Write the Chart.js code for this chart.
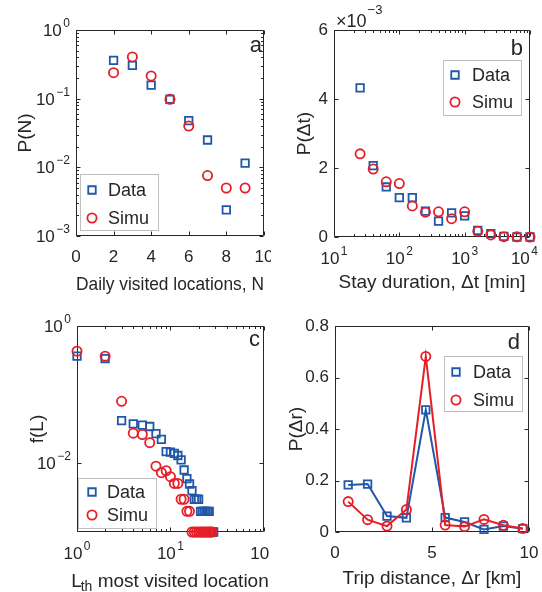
<!DOCTYPE html>
<html>
<head>
<meta charset="utf-8">
<script src="https://cdn.jsdelivr.net/npm/chart.js@4.4.0/dist/chart.umd.min.js"></script>
<style>
  html, body { margin: 0; padding: 0; background: #fff; }
  #figure { position: relative; width: 542px; height: 592px; overflow: hidden; }
  .panel { position: absolute; width: 271px; height: 296px; }
</style>
</head>
<body>
<div id="figure">
  <div class="panel" style="left:0;top:0"><canvas id="panel-a" width="271" height="296"></canvas></div>
  <div class="panel" style="left:271px;top:0"><canvas id="panel-b" width="271" height="296"></canvas></div>
  <div class="panel" style="left:0;top:296px"><canvas id="panel-c" width="271" height="296"></canvas></div>
  <div class="panel" style="left:271px;top:296px"><canvas id="panel-d" width="271" height="296"></canvas></div>
</div>
<script>
'use strict';

// (a) daily visited locations
let dailyLocations = [2, 3, 4, 5, 6, 7, 8, 9];
let dailyData = [0.362, 0.306, 0.157, 0.098, 0.048, 0.025, 0.0024, 0.0115];
let dailySimu = [0.239, 0.405, 0.214, 0.098, 0.040, 0.0076, 0.0050, 0.0050];

// (b) stay duration, minutes
let stayMinutes = [25.1, 39.8, 63.1, 100, 158, 251, 398, 631, 1000, 1585, 2512, 3981, 6310, 10000];
let stayData = [4.32e-3, 2.07e-3, 1.45e-3, 1.14e-3, 1.14e-3, 0.75e-3, 0.46e-3, 0.70e-3, 0.61e-3, 0.19e-3, 0.10e-3, 0.02e-3, 0, 0];
let staySimu = [2.41e-3, 1.97e-3, 1.60e-3, 1.55e-3, 0.90e-3, 0.72e-3, 0.73e-3, 0.53e-3, 0.73e-3, 0.165e-3, 0.06e-3, 0.01e-3, 0.005e-3, 0];

// (c) visit frequency by rank
let rankData = [1, 2, 3, 4, 5, 6, 7, 8, 9, 10, 11, 12, 13, 14, 15, 16, 17, 18, 19, 20, 21, 22, 23, 24, 25, 26, 27, 28, 29];
let freqData = [0.364, 0.336, 0.042, 0.0376, 0.036, 0.0344, 0.027, 0.0224, 0.0148, 0.0146, 0.014, 0.013, 0.0112, 0.008,
  0.006, 0.005, 0.004, 0.003, 0.003, 0.003, 0.002, 0.002, 0.002, 0.002, 0.002, 0.002, 0.001, 0.001, 0.001];
let rankSimu = [1, 2, 3, 4, 5, 6, 7, 8, 9, 10, 11, 12, 13, 14, 15, 16, 17, 18, 19, 20, 21, 22, 23, 24, 25, 26, 27, 28];
let freqSimu = [0.43, 0.364, 0.080, 0.0275, 0.0263, 0.020, 0.0091, 0.0073, 0.0078, 0.0064, 0.0051, 0.0051, 0.003, 0.003,
  0.002, 0.002, 0.001, 0.001, 0.001, 0.001, 0.001, 0.001, 0.001, 0.001, 0.001, 0.001, 0.001, 0.001];

// (d) trip distance, km
let tripKm = [0.68, 1.68, 2.68, 3.68, 4.68, 5.68, 6.68, 7.68, 8.68, 9.68];
let tripData = [0.183, 0.186, 0.062, 0.055, 0.474, 0.056, 0.039, 0.010, 0.023, 0.013];
let tripSimu = [0.118, 0.048, 0.023, 0.087, 0.682, 0.027, 0.021, 0.049, 0.026, 0.014];

// tick marks
let ticksA = { x: [0, 2, 4, 6, 8, 10], y: [0.001, 0.01, 0.1, 1] };
let ticksB = { x: [10, 100, 1000, 10000], y: [0, 0.002, 0.004, 0.006] };
let ticksC = { x: [1, 10, 100], y: [0.01, 1] };
let ticksD = { x: [0, 5, 10], y: [0, 0.2, 0.4, 0.6, 0.8] };

const FONT = "'Liberation Sans', Arial, Helvetica, sans-serif";
const INK = '#262626';
const BLUE = '#2157a8';
const RED = '#e61e28';

// 2..9 times every decade between lo and hi
function decadeMinors(lo, hi) {
  let out = [];
  for (let d = lo; d < hi; d *= 10) {
    for (let k = 2; k < 10; k++) out.push(k * d);
  }
  return out;
}

function pinSize(size) {
  return function (scale) {
    if (scale.isHorizontal()) scale.height = size; else scale.width = size;
    scale.paddingLeft = scale.paddingRight = scale.paddingTop = scale.paddingBottom = 0;
  };
}

function axis(o) {
  let bottom = o.position === 'bottom';
  return {
    type: o.type, position: o.position, min: o.min, max: o.max,
    grid: { display: false, drawTicks: false },
    border: { display: false },
    afterBuildTicks: function (scale) { scale.ticks = o.ticks.map(v => ({ value: v })); },
    afterFit: pinSize(o.size),
    ticks: {
      display: o.type !== 'logarithmic',
      autoSkip: false, maxRotation: 0, minRotation: 0, padding: bottom ? 11 : 6, color: INK,
      font: { family: FONT, size: 17 }, callback: o.format
    },
    title: {
      display: !!o.title, text: o.title, color: INK, font: { family: FONT, size: 19 },
      padding: bottom ? { top: 0, bottom: o.titlePad } : { top: o.titlePad, bottom: 0 }
    }
  };
}

function series(label, xs, ys, color, style, line) {
  return {
    label: label,
    data: xs.map((x, i) => ({ x: x, y: ys[i] })),
    borderColor: color,
    backgroundColor: 'rgba(0,0,0,0)',
    pointBackgroundColor: 'rgba(0,0,0,0)',
    pointStyle: style,
    pointRadius: style === 'rect' ? 5.3 : 4.6,
    pointBorderWidth: 1.8,
    showLine: !!line,
    borderWidth: 2,
    clip: false,
    order: label === 'Data' ? 2 : 1
  };
}

// "10" with a raised exponent; cy is the middle of the "10"
function drawPower(ctx, v, x, cy, anchor, maxRight) {
  let e = String(Math.round(Math.log10(v))).replace('-', '\u2212');
  ctx.font = '17px ' + FONT;
  let wb = ctx.measureText('10').width;
  ctx.font = '12px ' + FONT;
  let we = ctx.measureText(e).width;
  let total = wb + 1.5 + we;
  let left = anchor === 'right' ? x - total : x - total / 2;
  if (maxRight && left + total > maxRight) left = maxRight - total;
  ctx.textAlign = 'left';
  ctx.textBaseline = 'alphabetic';
  ctx.font = '17px ' + FONT;
  ctx.fillText('10', left, cy + 6);
  ctx.font = '12px ' + FONT;
  ctx.fillText(e, left + wb + 1.5, cy - 3);
}

// box round the plot with inward ticks on all four sides, plus power-of-ten labels
function framePlugin(spec) {
  return {
    id: 'frame',
    beforeDatasetsDraw(chart) {
      let ctx = chart.ctx, a = chart.chartArea;
      let xs = chart.scales.x, ys = chart.scales.y;
      let L = Math.round(a.left) + 0.5, R = Math.round(a.right) - 0.5;
      let T = Math.round(a.top) + 0.5, B = Math.round(a.bottom) - 0.5;
      ctx.save();
      ctx.strokeStyle = INK;
      ctx.lineWidth = 1;
      ctx.beginPath();
      ctx.rect(L, T, R - L, B - T);
      let marks = (vals, len, horiz) => vals.forEach(v => {
        if (horiz) {
          let x = Math.round(xs.getPixelForValue(v)) + 0.5;
          ctx.moveTo(x, B); ctx.lineTo(x, B - len);
          ctx.moveTo(x, T); ctx.lineTo(x, T + len);
        } else {
          let y = Math.round(ys.getPixelForValue(v)) + 0.5;
          ctx.moveTo(L, y); ctx.lineTo(L + len, y);
          ctx.moveTo(R, y); ctx.lineTo(R - len, y);
        }
      });
      marks(spec.xMajor, 4, true);
      marks(spec.xMinor || [], 2.5, true);
      marks(spec.yMajor, 4, false);
      marks(spec.yMinor || [], 2.5, false);
      ctx.stroke();

      ctx.fillStyle = INK;
      if (xs.type === 'logarithmic') {
        spec.xMajor.forEach(v => drawPower(ctx, v, xs.getPixelForValue(v), a.bottom + 20.5, 'center', spec.labelRight));
      }
      if (ys.type === 'logarithmic') {
        spec.yMajor.forEach(v => drawPower(ctx, v, a.left - 6, ys.getPixelForValue(v), 'right'));
      }
      ctx.restore();
    }
  };
}

function drawMarker(ctx, style, x, y) {
  ctx.beginPath();
  if (style === 'rect') {
    ctx.rect(x - 3.75, y - 3.75, 7.5, 7.5);
  } else {
    ctx.arc(x, y, 4.6, 0, Math.PI * 2);
  }
  ctx.stroke();
}

// panel letter, inset legend and any extra text
function overlayPlugin(spec) {
  return {
    id: 'overlay',
    afterDraw(chart) {
      let ctx = chart.ctx;
      ctx.save();
      ctx.fillStyle = INK;
      ctx.font = '22px ' + FONT;
      ctx.textAlign = 'right';
      ctx.textBaseline = 'alphabetic';
      ctx.fillText(spec.letter[0], spec.letter[1], spec.letter[2]);

      let lg = spec.legend;
      ctx.fillStyle = '#fff';
      ctx.fillRect(lg.x, lg.y, lg.w, lg.h);
      ctx.strokeStyle = '#bfbfbf';
      ctx.lineWidth = 1;
      ctx.strokeRect(lg.x + 0.5, lg.y + 0.5, lg.w, lg.h);
      ctx.font = '18px ' + FONT;
      ctx.textAlign = 'left';
      ctx.textBaseline = 'middle';
      chart.data.datasets.forEach((ds, i) => {
        let y = lg.y + lg.rows[i];
        ctx.strokeStyle = ds.borderColor;
        ctx.lineWidth = 1.8;
        drawMarker(ctx, ds.pointStyle, lg.x + lg.mark, y);
        ctx.fillStyle = INK;
        ctx.fillText(ds.label, lg.x + lg.text, y + 1);
      });

      if (spec.extra) spec.extra(ctx, chart);
      ctx.restore();
    }
  };
}

function makePanel(id, cfg) {
  return new Chart(document.getElementById(id), {
    type: 'scatter',
    data: { datasets: cfg.datasets },
    options: {
      responsive: false,
      animation: false,
      devicePixelRatio: 1,
      events: [],
      layout: { padding: cfg.padding },
      plugins: { legend: { display: false }, tooltip: { enabled: false } },
      scales: { x: cfg.x, y: cfg.y }
    },
    plugins: [framePlugin(cfg.frame), overlayPlugin(cfg.overlay)]
  });
}

// panel a
makePanel('panel-a', {
  datasets: [
    series('Data', dailyLocations, dailyData, BLUE, 'rect'),
    series('Simu', dailyLocations, dailySimu, RED, 'circle')
  ],
  padding: { top: 30, right: 1, left: 0, bottom: 0 },
  x: axis({ type: 'linear', position: 'bottom', min: 0, max: 10, ticks: ticksA.x, size: 60,
    title: 'Daily visited locations, N', titlePad: 0 }),
  y: axis({ type: 'logarithmic', position: 'left', min: 0.001, max: 1, ticks: ticksA.y, size: 76,
    title: 'P(N)', titlePad: 14 }),
  frame: { xMajor: ticksA.x, yMajor: ticksA.y, yMinor: decadeMinors(0.001, 1) },
  overlay: {
    letter: ['a', 262, 52],
    legend: { x: 80, y: 174, w: 78, h: 56, mark: 12, text: 28, rows: [16, 44] }
  }
});

// panel b
makePanel('panel-b', {
  datasets: [
    series('Data', stayMinutes, stayData, BLUE, 'rect'),
    series('Simu', stayMinutes, staySimu, RED, 'circle')
  ],
  padding: { top: 30, right: 12, left: 0, bottom: 0 },
  x: axis({ type: 'logarithmic', position: 'bottom', min: 10, max: 10000, ticks: ticksB.x, size: 59,
    title: 'Stay duration, \u0394t [min]', titlePad: 2 }),
  y: axis({ type: 'linear', position: 'left', min: 0, max: 0.006, ticks: ticksB.y, size: 63,
    format: v => String(Math.round(v * 1000)), title: 'P(\u0394t)', titlePad: 22 }),
  frame: { xMajor: ticksB.x, xMinor: decadeMinors(10, 10000), yMajor: ticksB.y, labelRight: 267 },
  overlay: {
    letter: ['b', 252, 55],
    legend: { x: 172, y: 60, w: 78, h: 55, mark: 12, text: 29, rows: [15, 42] },
    extra: function (ctx) {
      // common factor of the y ticks
      ctx.fillStyle = INK;
      ctx.textAlign = 'left';
      ctx.textBaseline = 'alphabetic';
      ctx.font = '18px ' + FONT;
      ctx.fillText('\u00D710', 65, 27);
      let w = ctx.measureText('\u00D710').width;
      ctx.font = '13px ' + FONT;
      ctx.fillText('\u22123', 65 + w + 1, 14);
    }
  }
});

// panel c
makePanel('panel-c', {
  datasets: [
    series('Data', rankData, freqData, BLUE, 'rect'),
    series('Simu', rankSimu, freqSimu, RED, 'circle')
  ],
  padding: { top: 30, right: 1, left: 0, bottom: 0 },
  x: axis({ type: 'logarithmic', position: 'bottom', min: 1, max: 100, ticks: ticksC.x, size: 60 }),
  y: axis({ type: 'logarithmic', position: 'left', min: 0.001, max: 1, ticks: ticksC.y, size: 77,
    title: 'f(L)', titlePad: 26 }),
  frame: { xMajor: ticksC.x, xMinor: decadeMinors(1, 100), yMajor: ticksC.y },
  overlay: {
    letter: ['c', 260, 50],
    legend: { x: 78, y: 182, w: 78, h: 50, mark: 14, text: 29, rows: [14, 37] },
    extra: function (ctx, chart) {
      // x title with subscript: L_th most visited location
      let a = chart.chartArea;
      ctx.fillStyle = INK;
      ctx.textAlign = 'left';
      ctx.textBaseline = 'alphabetic';
      ctx.font = '19px ' + FONT;
      let wL = ctx.measureText('L').width;
      let wRest = ctx.measureText(' most visited location').width;
      ctx.font = '14px ' + FONT;
      let wSub = ctx.measureText('th').width;
      let x0 = (a.left + a.right) / 2 - (wL + wSub + wRest) / 2;
      ctx.font = '19px ' + FONT;
      ctx.fillText('L', x0, 291);
      ctx.font = '14px ' + FONT;
      ctx.fillText('th', x0 + wL - 1, 295);
      ctx.font = '19px ' + FONT;
      ctx.fillText(' most visited location', x0 + wL + wSub - 1, 291);
    }
  }
});

// panel d
makePanel('panel-d', {
  datasets: [
    series('Data', tripKm, tripData, BLUE, 'rect', true),
    series('Simu', tripKm, tripSimu, RED, 'circle', true)
  ],
  padding: { top: 30, right: 13, left: 0, bottom: 0 },
  x: axis({ type: 'linear', position: 'bottom', min: 0, max: 10, ticks: ticksD.x, size: 60,
    title: 'Trip distance, \u0394r [km]', titlePad: 2 }),
  y: axis({ type: 'linear', position: 'left', min: 0, max: 0.8, ticks: ticksD.y, size: 64,
    format: v => (v === 0 ? '0' : v.toFixed(1)), title: 'P(\u0394r)', titlePad: 14 }),
  frame: { xMajor: ticksD.x, yMajor: ticksD.y },
  overlay: {
    letter: ['d', 249, 53],
    legend: { x: 173, y: 60, w: 78, h: 55, mark: 12, text: 29, rows: [16, 44] }
  }
});
</script>
</body>
</html>
